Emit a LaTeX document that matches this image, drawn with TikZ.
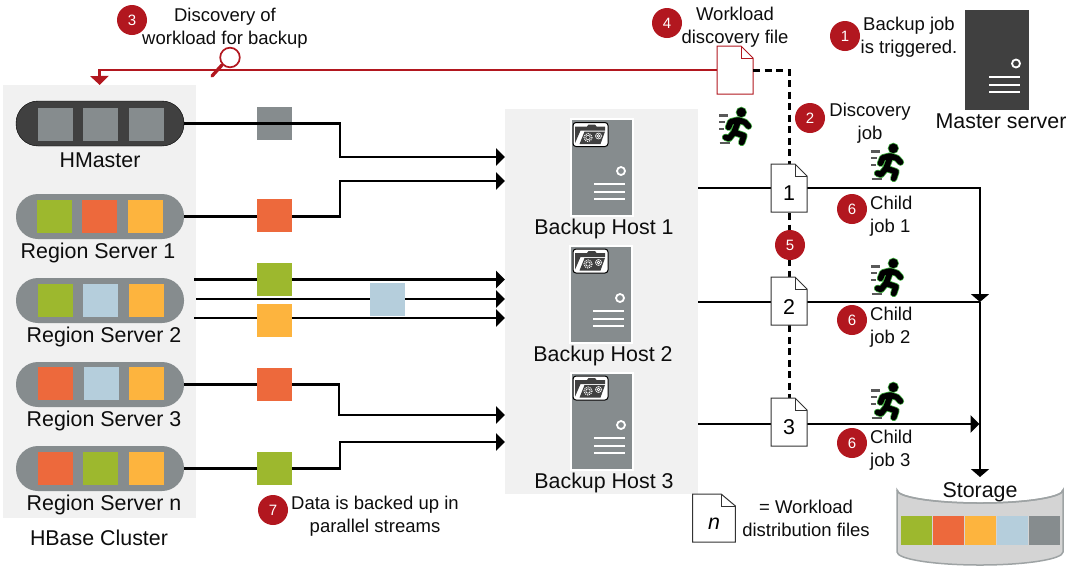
\documentclass[tikz,border=0pt]{standalone}
\usepackage{fontspec}
\setmainfont{Liberation Sans}
\usetikzlibrary{arrows.meta}

\definecolor{hgreen}{HTML}{9DB82E}
\definecolor{horange}{HTML}{ED693C}
\definecolor{hyellow}{HTML}{FDB43E}
\definecolor{hblue}{HTML}{B5CEDC}
\definecolor{hgrey}{HTML}{868C8E}
\definecolor{hdark}{HTML}{404040}
\definecolor{hpanel}{HTML}{F1F1F1}
\definecolor{hred}{HTML}{B2171F}
\definecolor{hglow}{HTML}{45B045}

\tikzset{
  lab/.style={font=\fontsize{18.5}{23}\selectfont,align=center,inner sep=0pt,text=black!95},
  biglab/.style={font=\fontsize{21.4}{24}\selectfont,align=center,inner sep=0pt,text=black!95},
  badge/.style={circle,fill=hred,text=white,minimum size=30pt,inner sep=0pt,font=\fontsize{15}{15}\selectfont},
  panel/.style={fill=hpanel,inner sep=0pt,anchor=north west},
  pill/.style={fill=hgrey,rounded corners=22pt,minimum width=168pt,minimum height=45pt,inner sep=0pt},
  sq/.style={minimum width=35pt,minimum height=33pt,inner sep=0pt},
  stsq/.style={minimum width=31pt,minimum height=29pt,inner sep=0pt},
  host/.style={fill=hgrey,draw=white,line width=1.5pt,minimum width=62pt,minimum height=97pt,inner sep=0pt},
  docfile/.style={minimum width=36pt,minimum height=48pt,inner sep=0pt,font=\fontsize{21}{24}\selectfont},
  flow/.style={line width=2.8pt,-{Triangle[length=9pt,width=17pt]}},
  thinflow/.style={line width=2pt},
  dashflow/.style={line width=3pt,dash pattern=on 7pt off 4.5pt},
  pics/serverbits/.style={code={
    \draw[white,line width=1.8pt] (19,3.5) circle (4);
    \draw[white,line width=2pt] (-8,16.5) -- (23,16.5) (-8,24.5) -- (23,24.5) (-8,31.5) -- (23,31.5);
  }},
  pics/foldericon/.style={code={
    \draw[black,fill=white,line width=1pt,rounded corners=3pt] (-17.5,-12) rectangle (17.5,12);
    \fill[hdark] (-15.5,-8) -- (-15.5,8.7) -- (-10,-4) -- (14.5,-4) -- (14.5,-8) -- (6,-8) -- (4.5,-10) -- (-2,-10) -- (-3.5,-8) -- cycle;
    \fill[hdark] (-11,9.5) -- (-6,-3) -- (14.5,-3) -- (10,9.5) -- cycle;
    \draw[white,line width=.6pt] (-2.5,3) circle (2.2);
    \draw[white,line width=1.1pt,dash pattern=on 1pt off 1pt] (-2.5,3) circle (4);
    \draw[white,line width=.6pt] (8,1.5) circle (1.4) (8,1.5) circle (3);
  }},
  pics/runner/.style={code={
    \draw[black!65,line width=2.8pt] (-16,-11.7) -- (-7,-11.7) (-16,-5) -- (-10.5,-5) (-16,2) -- (-11.5,2) (-15.5,16) -- (-5,16);
    \foreach \lw/\col in {7.2/hglow,5.6/black} {
      \draw[\col,line width=\lw pt,line join=round,line cap=round] (3.3,-6) -- (-1,5.3) -- (9,8.7) -- (6.7,15.5)
        (3.3,-7) -- (10,-4.7) -- (13.5,-0.8) (3,-7) -- (-4.3,-5.2) -- (-6.5,0.3) (-1,5.3) -- (-6,11.5) -- (-9.5,10.3);
      \fill[\col] (6.3,-14.7) circle (\lw pt*.5+2pt);
    }
  }},
}

\newcommand{\docpage}[5]{
  \begin{scope}[shift={(#2,#3)}]
    \draw[#4,fill=white,line width=1pt] (-18,-24) -- (6,-24) -- (18,-12) -- (18,24) -- (-18,24) -- cycle;
    \draw[#4,line width=1pt] (6,-24) -- (6,-12) -- (18,-12);
  \end{scope}
  \node[docfile] (#1) at (#2,#3) {#5};
}

\begin{document}
\begin{tikzpicture}[x=1pt,y=-1pt]

\useasboundingbox (0,0) rectangle (1067,566);

\node[panel,minimum width=193pt,minimum height=433pt] (cluster) at (3,85) {};
\node[panel,minimum width=193pt,minimum height=385pt] (hostpanel) at (505,109) {};

\node[pill,fill=hdark,draw=black] (hmaster) at (100,123.5) {};
\node[pill] (rs1) at (100,216.5) {};
\node[pill] (rs2) at (100,300.5) {};
\node[pill] (rs3) at (100,384.5) {};
\node[pill] (rsn) at (100,468.5) {};

\node[sq,fill=hgrey] at (55.5,124.5) {};
\node[sq,fill=hgrey] at (100.5,124.5) {};
\node[sq,fill=hgrey] at (146.5,124.5) {};
\node[sq,fill=hgreen] at (54.5,216.5) {};
\node[sq,fill=horange] at (99.5,216.5) {};
\node[sq,fill=hyellow] at (145.5,216.5) {};
\node[sq,fill=hgreen] at (55.5,300.5) {};
\node[sq,fill=hblue] at (100.5,300.5) {};
\node[sq,fill=hyellow] at (146.5,300.5) {};
\node[sq,fill=horange] at (55.5,383.5) {};
\node[sq,fill=hblue] at (101.5,383.5) {};
\node[sq,fill=hyellow] at (146.5,383.5) {};
\node[sq,fill=horange] at (55.5,468.5) {};
\node[sq,fill=hgreen] at (100.5,468.5) {};
\node[sq,fill=hyellow] at (146.5,468.5) {};

\node[biglab] (hmasterlab) at (100,160) {HMaster};
\node[biglab] (rs1lab) at (98,253) {Region Server 1};
\node[biglab] (rs2lab) at (104,337) {Region Server 2};
\node[biglab] (rs3lab) at (104,421) {Region Server 3};
\node[biglab] (rsnlab) at (104,505) {Region Server n};
\node[biglab] (clusterlab) at (99,538) {HBase Cluster};

\coordinate (in1) at (505,157);
\coordinate (in2) at (505,181);
\coordinate (in3) at (505,279.5);
\coordinate (in4) at (505,299);
\coordinate (in5) at (505,318);
\coordinate (in6) at (505,415);
\coordinate (in7) at (505,442);
\coordinate (rs2a) at (194,279.5);
\coordinate (rs2b) at (196,299);
\coordinate (rs2c) at (194,318);

\draw[flow] (rs1.east) -| (340,200) |- (in2);
\draw[flow] (rs2a) -- (in3);
\draw[flow] (rs2b) -- (in4);
\draw[flow] (rs2c) -- (in5);
\draw[flow] (rs3.east) -| (339,400) |- (in6);
\draw[flow] (rsn.east) -| (340,455) |- (in7);

\node[sq,fill=hgrey] (strm1) at (274.5,123.5) {};
\node[sq,fill=horange] (strm2) at (274.5,215.5) {};
\node[sq,fill=hgreen] (strm3) at (274.5,279.5) {};
\node[sq,fill=hyellow] (strm4) at (274.5,320.5) {};
\node[sq,fill=hblue] (strm5) at (387.5,299.5) {};
\node[sq,fill=horange] (strm6) at (274.5,384.5) {};
\node[sq,fill=hgreen] (strm7) at (274.5,468.5) {};

\draw[flow] (hmaster.east) -| (340,140) |- (in1);

\node[host] (host1) at (602,167.5) {};
\node[host] (host2) at (601,294.5) {};
\node[host] (host3) at (602,421.5) {};
\pic at (host1) {serverbits};
\pic at (host2) {serverbits};
\pic at (host3) {serverbits};
\pic at (590.5,134.5) {foldericon};
\pic at (590.5,261) {foldericon};
\pic at (590.5,388) {foldericon};
\node[biglab] (host1lab) at (604,229) {Backup Host 1};
\node[biglab] (host2lab) at (603,356) {Backup Host 2};
\node[biglab] (host3lab) at (604,483) {Backup Host 3};

\node[fill=hdark,minimum width=64pt,minimum height=100pt,inner sep=0pt] (master) at (997,60) {};
\pic at (master) {serverbits};
\node[biglab] (masterlab) at (1001,121) {Master server};

\coordinate (out1) at (698,188);
\coordinate (out2) at (698,302);
\coordinate (out3) at (698,424);
\coordinate (join2) at (980,302);
\coordinate (join3) at (979.5,424);
\coordinate (stortop) at (980,477);

\draw[hgrey!80,fill=black!17,line width=1.5pt] (897,490) -- (897,552) arc[start angle=180,end angle=0,x radius=83,y radius=13] -- (1063,490) arc[start angle=0,end angle=180,x radius=83,y radius=13] -- cycle;
\draw[hgrey!80,line width=1.5pt] (897,490) arc[start angle=180,end angle=0,x radius=83,y radius=13];
\node[biglab] (storage) at (980,492) {Storage};
\node[stsq,fill=hgreen] (st1) at (916.5,530.5) {};
\node[stsq,fill=horange] (st2) at (948.5,530.5) {};
\node[stsq,fill=hyellow] (st3) at (980.5,530.5) {};
\node[stsq,fill=hblue] (st4) at (1012.5,530.5) {};
\node[stsq,fill=hgrey] (st5) at (1044.5,530.5) {};

\draw[flow,-{Triangle[length=8pt,width=18pt]}] (out1) -| (join2);
\draw[flow,-{Triangle[length=8pt,width=18pt]}] (join2) -- (stortop);
\draw[thinflow] (out2) -- (join2);
\draw[flow] (out3) -- (join3);

\docpage{rdoc}{735}{70}{hred}{}
\draw[hred,line width=2.8pt] (rdoc.west) -| (99.5,78);
\draw[hred,-{Triangle[length=9pt,width=18pt]},line width=2.8pt] (99.5,76) -- (cluster.north);
\draw[hred,line width=3.4pt,line cap=round] (222,65) -- (212,76);
\draw[hred,fill=white,line width=1.7pt] (230,57.5) circle (9.8);

\draw[dashflow] (rdoc.east) -| (789,165);
\draw[dashflow] (789,213) -- (789,277);
\draw[dashflow] (789,325) -- (789,398);

\docpage{d1}{789}{188}{black!80}{}
\docpage{d2}{789}{301}{black!80}{}
\docpage{d3}{789}{422}{black!80}{}
\node[biglab,text=black] (d1lab) at (789,193.5) {1};
\node[biglab,text=black] (d2lab) at (789,307.5) {2};
\node[biglab,text=black] (d3lab) at (789,427.5) {3};
\docpage{dn}{714}{518}{black!80,xscale=1.19}{}
\node[biglab,text=black] (dnlab) at (714,524) {\textit{n}};

\node[lab] (lab3) at (225,28.5) {Discovery of\\workload for backup};
\node[lab] (lab4) at (735,27) {Workload\\discovery file};
\node[lab] (lab1) at (909,37) {Backup job\\is triggered.};
\node[lab] (lab2) at (870,123) {Discovery\\job};
\node[lab,align=left,anchor=west] (lab61) at (870,216) {Child\\job 1};
\node[lab,align=left,anchor=west] (lab62) at (870,327) {Child\\job 2};
\node[lab,align=left,anchor=west] (lab63) at (870,450) {Child\\job 3};
\node[lab] (lab7) at (375,516) {Data is backed up in\\parallel streams};
\node[lab] (labn) at (806,518) {= Workload\\distribution files};

\node[badge] (b3) at (132,20) {3};
\node[badge] (b4) at (667,23) {4};
\node[badge] (b1) at (845,36) {1};
\node[badge] (b2) at (810,118) {2};
\node[badge] (b5) at (790,245) {5};
\node[badge] (b61) at (852,209) {6};
\node[badge] (b62) at (852,320) {6};
\node[badge] (b63) at (852,443) {6};
\node[badge] (b7) at (273,510) {7};

\pic at (735,127) {runner};
\pic at (887,163) {runner};
\pic at (887,278) {runner};
\pic at (887,402) {runner};

\end{tikzpicture}
\end{document}
